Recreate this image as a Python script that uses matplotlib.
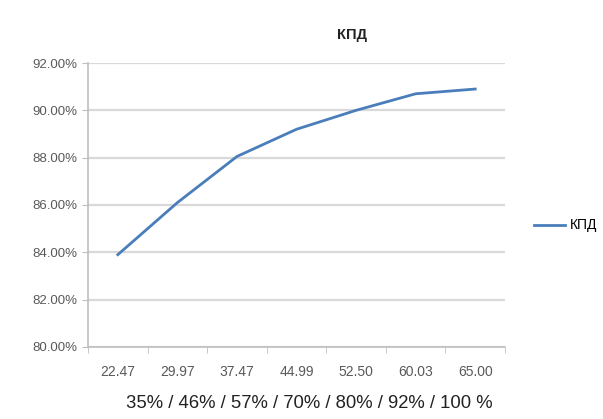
import matplotlib
matplotlib.use("Agg")
import matplotlib.pyplot as plt
from matplotlib.ticker import PercentFormatter, FixedLocator

plt.rcParams['font.family'] = ['Liberation Sans', 'DejaVu Sans']

# data
categories = ["22.47", "29.97", "37.47", "44.99", "52.50", "60.03", "65.00"]
kpd = [83.9, 86.1, 88.05, 89.2, 90.0, 90.7, 90.9]
yticks = [80, 82, 84, 86, 88, 90, 92]
series_name = "КПД"
xlabel = "35% / 46% / 57% / 70% / 80% / 92% / 100 %"

fig = plt.figure(figsize=(6.03, 4.19), dpi=100)
ax = fig.add_axes([0.146, 0.172, 0.6915, 0.6776])

x = list(range(len(categories)))
ax.plot(x, kpd, color="#4a7ebb", linewidth=2.0, label=series_name)

ax.set_xlim(-0.5, len(categories) - 0.5)
ax.set_ylim(80, 92)
ax.set_yticks(yticks)
ax.yaxis.set_major_formatter(PercentFormatter(decimals=2))
ax.grid(axis="y", color="#d9d9d9", linewidth=1.6)
ax.set_axisbelow(True)

ax.set_xticks(x)
ax.set_xticklabels(categories)
ax.xaxis.set_minor_locator(FixedLocator([i - 0.5 for i in range(len(categories) + 1)]))
ax.tick_params(axis="x", which="major", length=0, pad=13, labelsize=10, labelcolor="#595959")
ax.tick_params(axis="x", which="minor", length=4, color="#bfbfbf", direction="out")
ax.tick_params(axis="y", length=4, color="#bfbfbf", pad=4, labelsize=9.5, labelcolor="#595959")

for side in ["top", "right"]:
    ax.spines[side].set_visible(False)
for side in ["left", "bottom"]:
    ax.spines[side].set_color("#bfbfbf")
    ax.spines[side].set_linewidth(1.2)

ax.set_xlabel(xlabel, fontsize=13.3, color="#222222")
ax.xaxis.set_label_coords(0.53, -0.17)
fig.text(0.584, 0.916, series_name, ha="center", va="center", fontsize=10.5, fontweight="bold", color="#222222")

fig.legend(loc="center left", bbox_to_anchor=(0.865, 0.462), frameon=False,
           fontsize=10, handlelength=2.2, handletextpad=0.4)

fig.savefig("out.png", dpi=100)
